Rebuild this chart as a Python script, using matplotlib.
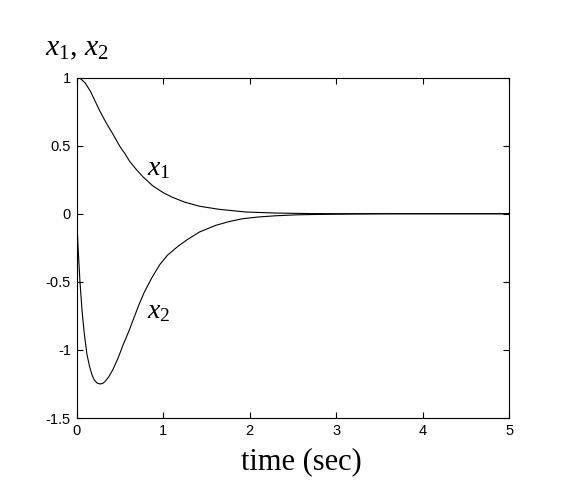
import numpy as np
import matplotlib
matplotlib.use("Agg")
import matplotlib.pyplot as plt

plt.rcParams['mathtext.fontset'] = 'custom'
plt.rcParams['mathtext.rm'] = 'Liberation Serif'
plt.rcParams['mathtext.it'] = 'Liberation Serif:italic'

# values
t1 = [0, 0.05, 0.1, 0.16, 0.22, 0.268, 0.34, 0.42, 0.5, 0.56, 0.613, 0.69, 0.766,
      0.88, 1.0, 1.11, 1.25, 1.42, 1.65, 1.95, 2.3, 2.7, 3.2, 5.0]
x1 = [1.0, 0.99, 0.96, 0.9, 0.82, 0.756, 0.67, 0.585, 0.495, 0.44, 0.385, 0.325, 0.272,
      0.205, 0.155, 0.12, 0.085, 0.055, 0.032, 0.013, 0.005, 0.001, 0.0, 0.0]

t2 = [0, 0.02, 0.04, 0.065, 0.09, 0.12, 0.15, 0.18, 0.205, 0.235, 0.27, 0.3, 0.33,
      0.37, 0.42, 0.48, 0.54, 0.6, 0.66, 0.72, 0.78, 0.87, 0.96, 1.05,
      1.17, 1.28, 1.42, 1.61, 1.76, 1.915, 2.1, 2.3, 2.55, 2.8, 3.2, 3.6, 5.0]
x2 = [0.0, -0.27, -0.5, -0.72, -0.88, -1.03, -1.12, -1.185, -1.22, -1.242, -1.25, -1.247, -1.232,
      -1.2, -1.145, -1.06, -0.96, -0.87, -0.77, -0.67, -0.58, -0.47, -0.375, -0.305,
      -0.24, -0.19, -0.134, -0.085, -0.058, -0.037, -0.024, -0.015, -0.008, -0.005, -0.002, 0.0, 0.0]

xticks = [0, 1, 2, 3, 4, 5]
yticks = [-1.5, -1, -0.5, 0, 0.5, 1]
ytick_labels = ['-1.5', '-1', '-0.5', '0', '0.5', '1']

fig = plt.figure(figsize=(5.68, 4.92), dpi=100)
ax = fig.add_axes([0.1347, 0.1504, 0.7623, 0.692])

ax.plot(t1, x1, color='black', lw=0.8)
ax.plot(t2, x2, color='black', lw=0.8)

ax.set_xlim(0, 5)
ax.set_ylim(-1.5, 1)
ax.set_xticks(xticks)
ax.set_yticks(yticks)
ax.set_yticklabels(ytick_labels)
ax.tick_params(direction='in', length=4, width=0.8, top=True, right=True,
               labelsize=10.5, pad=4)
for lab in ax.get_xticklabels() + ax.get_yticklabels():
    lab.set_fontfamily('Liberation Sans')
for sp in ax.spines.values():
    sp.set_linewidth(0.8)

ax.set_xlabel('time (sec)', fontfamily='Liberation Serif', fontsize=22)
ax.xaxis.set_label_coords((301.5 - 76.5) / 433, -0.085)

ax.text(0.81, 0.28, r'$x_1$', fontsize=20, va='baseline')
ax.text(0.81, -0.77, r'$x_2$', fontsize=20, va='baseline')
fig.text(45 / 568, 1 - 55 / 492, r'$x_1$, $x_2$', fontsize=21.5,
         fontfamily='Liberation Serif', va='baseline')

fig.savefig('out.png', dpi=100)
